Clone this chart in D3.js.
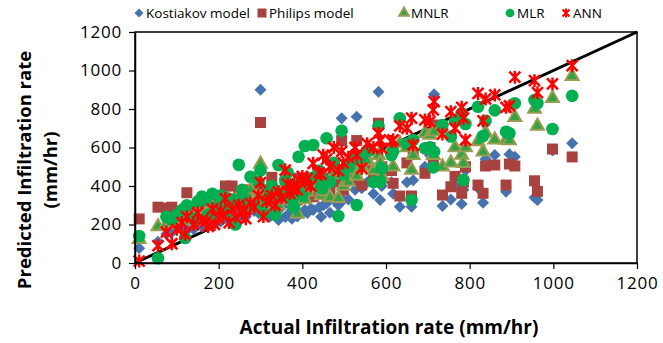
<!DOCTYPE html>
<html>
<head>
<meta charset="utf-8">
<script src="https://cdn.jsdelivr.net/npm/d3@7/dist/d3.min.js"></script>
<style>
  body { margin: 0; background: #fff; }
  text { font-family: "Open Sans", sans-serif; fill: #000; }
</style>
</head>
<body>
<div id="chart"></div>
<script>
// actual infiltration rate (mm/hr), one entry per observation
const actual = [10, 55, 75, 88, 100, 112, 120, 124, 140, 150, 160, 170, 175, 185, 190, 200, 205, 210, 216, 225,
  232, 240, 248, 256, 260, 265, 276, 285, 295, 300, 307, 315, 322, 327, 335, 343, 350, 359, 365, 370,
  375, 380, 388, 391, 400, 406, 412, 420, 426, 440, 445, 450, 458, 466, 475, 486, 494, 498, 510, 526,
  530, 542, 555, 570, 582, 586, 590, 613, 617, 633, 650, 661, 665, 693, 705, 713, 715, 735, 755, 765,
  781, 785, 790, 820, 832, 838, 860, 887, 895, 908, 955, 962, 998, 1045];

// predicted rates for each model, same order as actual
const kostiakov = [76, 110, 150, 160, 180, 190, 200, 170, 175, 205, 190, 200, 210, 230, 205, 225, 215, 240, 260, 220,
  270, 250, 280, 260, 235, 240, 290, 270, 260, 900, 280, 300, 240, 310, 250, 223, 290, 239, 250, 300,
  230, 270, 241, 330, 260, 275, 260, 280, 275, 290, 240, 300, 310, 261, 330, 300, 752, 327, 330, 380,
  760, 388, 420, 360, 890, 327, 400, 420, 360, 292, 420, 292, 430, 500, 560, 500, 876, 296, 330, 400,
  306, 380, 480, 390, 313, 540, 561, 370, 565, 552, 340, 327, 585, 622];
const philips = [229, 290, 285, 290, 265, 267, 280, 365, 250, 290, 270, 280, 300, 310, 260, 320, 350, 290, 400, 300,
  400, 330, 360, 340, 300, 310, 380, 350, 410, 730, 330, 380, 350, 445, 320, 330, 360, 420, 370, 390,
  400, 370, 330, 440, 380, 344, 390, 420, 344, 450, 360, 400, 440, 380, 500, 420, 636, 379, 460, 431,
  636, 405, 520, 470, 726, 466, 500, 480, 414, 348, 520, 348, 566, 466, 600, 520, 717, 353, 396, 450,
  362, 420, 500, 405, 362, 504, 509, 405, 514, 504, 427, 372, 592, 551];
const mnlr = [123, 190, 200, 210, 220, 230, 240, 250, 220, 260, 240, 260, 270, 290, 250, 300, 290, 270, 320, 280,
  310, 300, 350, 320, 270, 290, 380, 330, 350, 514, 300, 350, 330, 380, 280, 300, 330, 400, 350, 380,
  360, 320, 255, 420, 360, 330, 370, 390, 440, 420, 350, 380, 370, 340, 460, 336, 474, 400, 420, 480,
  452, 500, 530, 480, 560, 520, 450, 600, 500, 622, 600, 483, 560, 674, 665, 560, 682, 500, 521, 600,
  561, 518, 600, 631, 578, 677, 640, 639, 636, 757, 800, 712, 856, 970];
const mlr = [140, 25, 240, 225, 250, 275, 130, 300, 230, 320, 345, 330, 250, 360, 240, 300, 350, 280, 340, 260,
  330, 200, 510, 380, 340, 280, 448, 300, 420, 480, 260, 330, 380, 400, 250, 509, 350, 430, 470, 380,
  330, 290, 400, 552, 350, 608, 420, 440, 613, 480, 390, 430, 648, 420, 520, 244, 687, 460, 500, 540,
  301, 552, 580, 420, 710, 422, 492, 561, 580, 752, 620, 327, 639, 596, 601, 497, 578, 717, 657, 740,
  778, 431, 722, 812, 660, 739, 793, 682, 674, 830, 847, 830, 696, 868];
const ann = [10, 90, 160, 100, 175, 210, 150, 240, 200, 260, 220, 215, 190, 280, 200, 230, 270, 250, 335, 210,
  280, 240, 300, 260, 280, 230, 310, 290, 350, 417, 241, 320, 330, 350, 300, 370, 340, 483, 410, 360,
  380, 400, 380, 430, 450, 420, 440, 400, 518, 470, 460, 560, 540, 500, 600, 480, 580, 520, 550, 600,
  561, 492, 620, 600, 674, 639, 596, 631, 640, 712, 700, 752, 613, 743, 734, 795, 838, 670, 786, 700,
  809, 752, 639, 881, 738, 852, 873, 809, 816, 965, 947, 885, 930, 1025];

const tickValues = [0, 200, 400, 600, 800, 1000, 1200];
const lineEnds = [0, 1200];

const width = 663, height = 343;
const plotLeft = 135, plotRight = 637, plotTop = 32, plotBottom = 263;

const svg = d3.select("#chart")
  .append("svg")
  .attr("width", width)
  .attr("height", height);

const x = d3.scaleLinear().domain([0, 1200]).range([plotLeft, plotRight]);
const y = d3.scaleLinear().domain([0, 1200]).range([plotBottom, plotTop]);

// marker painters
function star(s) {
  const p = d3.path();
  p.moveTo(-s, -s); p.lineTo(s, s);
  p.moveTo(-s, s); p.lineTo(s, -s);
  p.moveTo(0, -s - 1); p.lineTo(0, s + 1);
  return p.toString();
}

const series = [
  { name: "Kostiakov model", values: kostiakov, path: d3.symbol(d3.symbolSquare, 72)(), rotate: 45,
    fill: "#4672ad", stroke: "none", sw: 0, legendPath: d3.symbol(d3.symbolSquare, 40)() },
  { name: "Philips model", values: philips, path: d3.symbol(d3.symbolSquare, 121)(), rotate: 0,
    fill: "#a8423f", stroke: "none", sw: 0, legendPath: d3.symbol(d3.symbolSquare, 81)() },
  { name: "MNLR", values: mnlr, path: d3.symbol(d3.symbolTriangle, 72)(), rotate: 0,
    fill: "#2fa443", stroke: "#9a9c52", sw: 2, legendPath: d3.symbol(d3.symbolTriangle, 40)() },
  { name: "MLR", values: mlr, path: d3.symbol(d3.symbolCircle, 125)(), rotate: 0,
    fill: "#00b050", stroke: "none", sw: 0, legendPath: d3.symbol(d3.symbolCircle, 60)() },
  { name: "ANN", values: ann, path: star(5.5), rotate: 0,
    fill: "none", stroke: "#ff0000", sw: 2.5, legendPath: star(3.5) }
];

// 1:1 line under the markers
svg.append("path")
  .datum(lineEnds)
  .attr("d", d3.line().x(d => x(d)).y(d => y(d)))
  .attr("stroke", "#000")
  .attr("stroke-width", 3)
  .attr("fill", "none");

series.forEach(s => {
  svg.append("g")
    .selectAll("path")
    .data(actual.map((a, i) => [a, s.values[i]]))
    .enter()
    .append("path")
    .attr("d", s.path)
    .attr("transform", d => "translate(" + x(d[0]) + "," + y(d[1]) + ") rotate(" + s.rotate + ")")
    .attr("fill", s.fill)
    .attr("stroke", s.stroke)
    .attr("stroke-width", s.sw);
});

// plot border
svg.append("rect")
  .attr("x", plotLeft)
  .attr("y", plotTop)
  .attr("width", plotRight - plotLeft)
  .attr("height", plotBottom - plotTop)
  .attr("fill", "none")
  .attr("stroke", "#000")
  .attr("stroke-width", 1.5);

const fmt = d3.format("d");

const xAxis = svg.append("g")
  .attr("transform", "translate(0," + plotBottom + ")")
  .call(d3.axisBottom(x).tickValues(tickValues).tickFormat(fmt).tickSize(6).tickSizeOuter(0).tickPadding(8));

const yAxis = svg.append("g")
  .attr("transform", "translate(" + plotLeft + ",0)")
  .call(d3.axisLeft(y).tickValues(tickValues).tickFormat(fmt).tickSize(6).tickSizeOuter(0).tickPadding(7));

[xAxis, yAxis].forEach(g => {
  g.select(".domain").attr("stroke", "#000").attr("stroke-width", 1.5);
  g.selectAll(".tick line").attr("stroke", "#000").attr("stroke-width", 1.2);
  g.selectAll("text")
    .style("font-family", "'Open Sans', sans-serif")
    .style("font-size", "17px")
    .style("letter-spacing", "0.8px")
    .attr("fill", "#000");
});

// axis titles
svg.append("text")
  .attr("x", 389)
  .attr("y", 334)
  .attr("text-anchor", "middle")
  .style("font-size", "19px")
  .style("font-weight", "bold")
  .text("Actual Infiltration rate (mm/hr)");

const yt = svg.append("text")
  .attr("transform", "translate(31,170) rotate(-90)")
  .attr("text-anchor", "middle")
  .style("font-size", "18.5px")
  .style("font-weight", "bold");
yt.append("tspan").attr("x", 0).attr("dy", 0).text("Predicted Infiltration rate");
yt.append("tspan").attr("x", 0).attr("dy", 26).text("(mm/hr)");

// legend
const legendX = [139, 262, 404, 510, 566];
series.forEach((s, i) => {
  svg.append("path")
    .attr("d", s.legendPath)
    .attr("transform", "translate(" + legendX[i] + ",13) rotate(" + s.rotate + ")")
    .attr("fill", s.fill)
    .attr("stroke", s.stroke)
    .attr("stroke-width", s.sw === 0 ? 0 : 2);
  svg.append("text")
    .attr("x", legendX[i] + 7)
    .attr("y", 18)
    .style("font-size", "13.5px")
    .text(s.name);
});
</script>
</body>
</html>
